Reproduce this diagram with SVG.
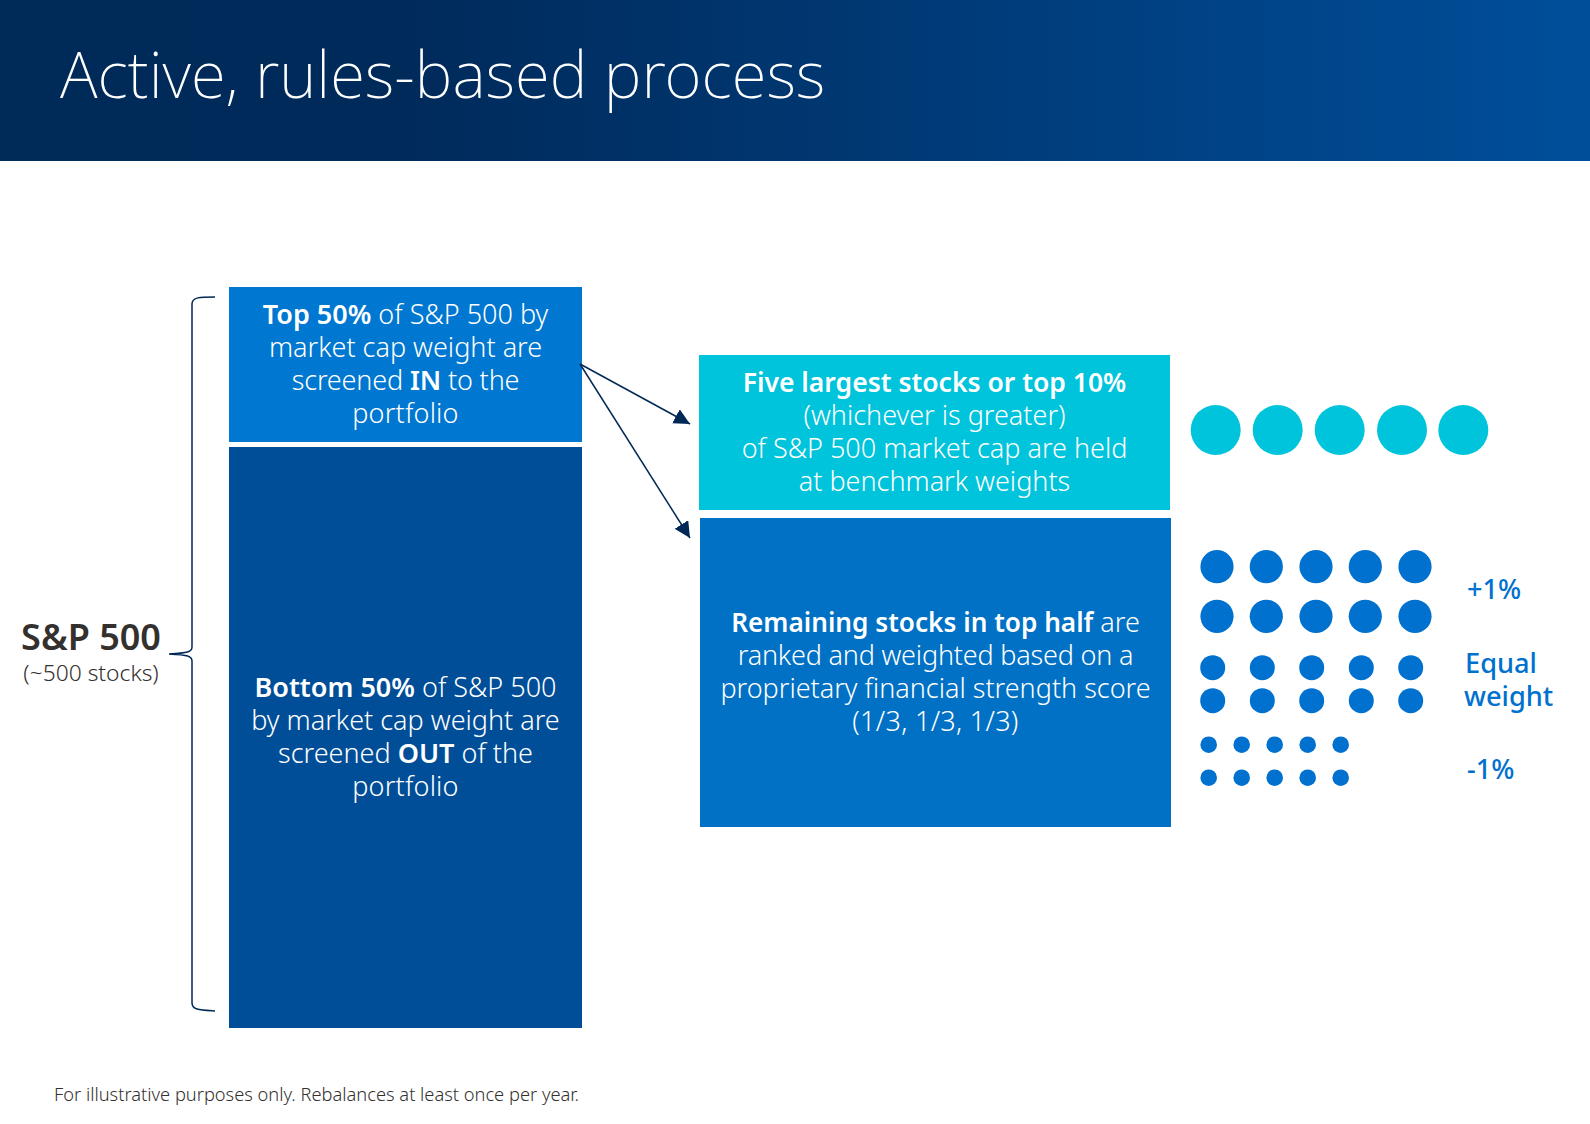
<svg xmlns="http://www.w3.org/2000/svg" width="1590" height="1124" viewBox="0 0 1590 1124">
<style>
text{font-family:"Noto Sans","Open Sans",sans-serif;}
.b{font-size:27px;font-weight:300;fill:#fff;text-anchor:middle}
.s{font-weight:600}
.n{font-size:26.500px}
.m{font-size:26.200px}
.c{fill:#00c4dc}
.d{fill:#0071ce}
.l{font-size:27.200px;font-weight:500;fill:#0071ce}
.con{fill:none;stroke:#002856;stroke-width:1.500}
</style>
<defs>
<linearGradient id="h" x1="0" y1="0" x2="1" y2="0"><stop offset="0" stop-color="#002a58"/><stop offset="0.25" stop-color="#002a5a"/><stop offset="1" stop-color="#004e9a"/></linearGradient>
<marker id="a" markerWidth="17" markerHeight="16" refX="16" refY="8" orient="auto" markerUnits="userSpaceOnUse"><path d="M0 0L16 8L0 16z" fill="#002856"/></marker>
</defs>
<rect id="header" width="1590" height="161" fill="url(#h)"/>
<text x="60" y="97.500" font-size="63.700" font-weight="200" fill="#fff">Active, rules-based process</text>
<g id="top"><rect x="229" y="287" width="353" height="155" fill="#0077d0"/>
<text class="b"><tspan x="405.500" y="324"><tspan class="s">Top 50%</tspan> of S&amp;P 500 by</tspan><tspan x="405.500" y="357">market cap weight are</tspan><tspan x="405.500" y="390" letter-spacing="-0.150">screened <tspan class="s">IN</tspan> to the</tspan><tspan x="405.500" y="423" letter-spacing="0.200">portfolio</tspan></text></g>
<g id="bottom"><rect x="229" y="447" width="353" height="581" fill="#004e98"/>
<text class="b"><tspan x="405.500" y="697"><tspan class="s">Bottom 50%</tspan> of S&amp;P 500</tspan><tspan x="405.500" y="730">by market cap weight are</tspan><tspan x="405.500" y="763">screened <tspan class="s">OUT</tspan> of the</tspan><tspan x="405.500" y="796" letter-spacing="0.200">portfolio</tspan></text></g>
<g id="five"><rect x="699" y="355" width="471" height="155" fill="#00c4dc"/>
<text class="b"><tspan x="934.500" y="392" class="s n">Five largest stocks or top 10%</tspan><tspan x="934.500" y="425">(whichever is greater)</tspan><tspan x="934.500" y="458">of S&amp;P 500 market cap are held</tspan><tspan x="934.500" y="491">at benchmark weights</tspan></text></g>
<g id="remaining"><rect x="700" y="518" width="471" height="309" fill="#0071c4"/>
<text class="b"><tspan x="935.500" y="632"><tspan class="s m">Remaining stocks in top half</tspan> are</tspan><tspan x="935.500" y="665" letter-spacing="-0.200">ranked and weighted based on a</tspan><tspan x="935.500" y="698">proprietary financial strength score</tspan><tspan x="935.500" y="731" letter-spacing="0.300">(1/3, 1/3, 1/3)</tspan></text></g>
<g id="sp500"><text x="91" y="650" text-anchor="middle" font-size="36" font-weight="600" fill="#33302e">S&amp;P 500</text>
<text x="91" y="681" text-anchor="middle" font-size="22.800" font-weight="300" fill="#33302e">(~500 stocks)</text></g>
<g id="connectors">
<path class="con" d="M215 297C200 297 192 297 192 304V647C192 652 188 653 169 654C188 655 192 656 192 661V1003C192 1010 200 1010 215 1011"/>
<line class="con" x1="580" y1="364" x2="690" y2="424" marker-end="url(#a)"/>
<line class="con" x1="580" y1="364" x2="690" y2="538" marker-end="url(#a)"/>
</g>
<g id="cyan-dots" class="c"><circle cx="1215.700" cy="430" r="25"/><circle cx="1277.700" cy="430" r="25"/><circle cx="1339.700" cy="430" r="25"/><circle cx="1402" cy="430" r="25"/><circle cx="1463.300" cy="430" r="25"/></g>
<g id="dots-large" class="d"><circle cx="1217" cy="566.700" r="16.600"/><circle cx="1266.300" cy="566.700" r="16.600"/><circle cx="1316" cy="566.700" r="16.600"/><circle cx="1365.300" cy="566.700" r="16.600"/><circle cx="1415" cy="566.700" r="16.600"/><circle cx="1217" cy="616.300" r="16.600"/><circle cx="1266.300" cy="616.300" r="16.600"/><circle cx="1316" cy="616.300" r="16.600"/><circle cx="1365.300" cy="616.300" r="16.600"/><circle cx="1415" cy="616.300" r="16.600"/></g>
<g id="dots-medium" class="d"><circle cx="1212.700" cy="667.700" r="12.500"/><circle cx="1262.300" cy="667.700" r="12.500"/><circle cx="1311.700" cy="667.700" r="12.500"/><circle cx="1361.300" cy="667.700" r="12.500"/><circle cx="1410.700" cy="667.700" r="12.500"/><circle cx="1212.700" cy="700.700" r="12.500"/><circle cx="1262.300" cy="700.700" r="12.500"/><circle cx="1311.700" cy="700.700" r="12.500"/><circle cx="1361.300" cy="700.700" r="12.500"/><circle cx="1410.700" cy="700.700" r="12.500"/></g>
<g id="dots-small" class="d"><circle cx="1208.700" cy="744.700" r="8.300"/><circle cx="1241.700" cy="744.700" r="8.300"/><circle cx="1274.700" cy="744.700" r="8.300"/><circle cx="1307.700" cy="744.700" r="8.300"/><circle cx="1340.700" cy="744.700" r="8.300"/><circle cx="1208.700" cy="777.700" r="8.300"/><circle cx="1241.700" cy="777.700" r="8.300"/><circle cx="1274.700" cy="777.700" r="8.300"/><circle cx="1307.700" cy="777.700" r="8.300"/><circle cx="1340.700" cy="777.700" r="8.300"/></g>
<text class="l" x="1467" y="599">+1%</text>
<text class="l" x="1465" y="673">Equal</text>
<text class="l" x="1464" y="706">weight</text>
<text class="l" x="1467" y="779">-1%</text>
<text x="54" y="1100.500" font-size="18.280" font-weight="300" fill="#33302e">For illustrative purposes only. Rebalances at least once per year.</text>
</svg>
